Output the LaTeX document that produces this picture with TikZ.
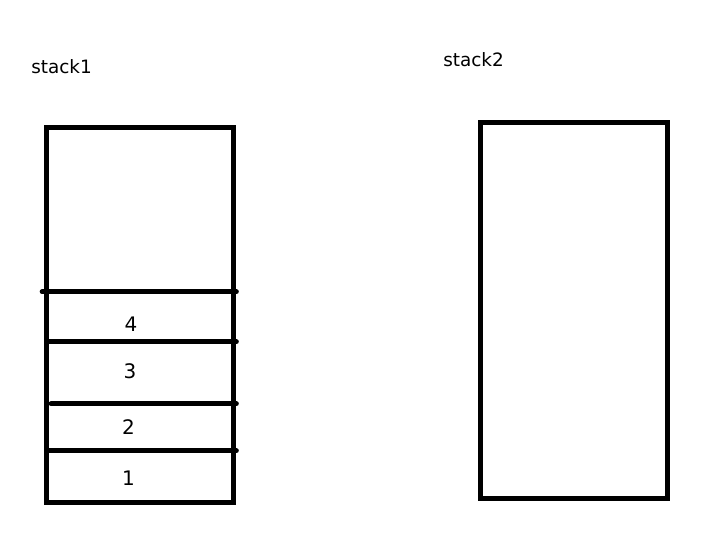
\documentclass[tikz,border=0pt]{standalone}
\usepackage{fontspec}
\setmainfont{DejaVu Sans}
\begin{document}
\begin{tikzpicture}[x=0.75pt,y=-0.75pt,
  stapel/.style={line width=3.75pt,black},
  trenner/.style={line width=3.5pt,black,line cap=round},
  titel/.style={anchor=base west,inner sep=0pt,font=\fontsize{13.8}{16}\selectfont},
  zahl/.style={inner sep=0pt,font=\fontsize{15}{18}\selectfont}]
\useasboundingbox (0,0) rectangle (720,543);

% Stapel 1
\draw[stapel] (46.8,127.5) rectangle (233.2,502.7);
\node[titel] (titel1) at (31,73) {stack1};
\draw[trenner] (42,291.7) -- (236.5,291.7);
\draw[trenner] (48.7,341.7) -- (236.5,341.7);
\draw[trenner] (51,403.7) -- (236.5,403.7);
\draw[trenner] (48.5,450.7) -- (236.5,450.7);
\node[zahl] (e4) at (131,324) {4};
\node[zahl] (e3) at (130,371) {3};
\node[zahl] (e2) at (128.5,427.5) {2};
\node[zahl] (e1) at (128.5,478) {1};

% Stapel 2
\draw[stapel] (480.8,122.5) rectangle (667.2,498.5);
\node[titel] (titel2) at (443,66) {stack2};
\end{tikzpicture}
\end{document}
